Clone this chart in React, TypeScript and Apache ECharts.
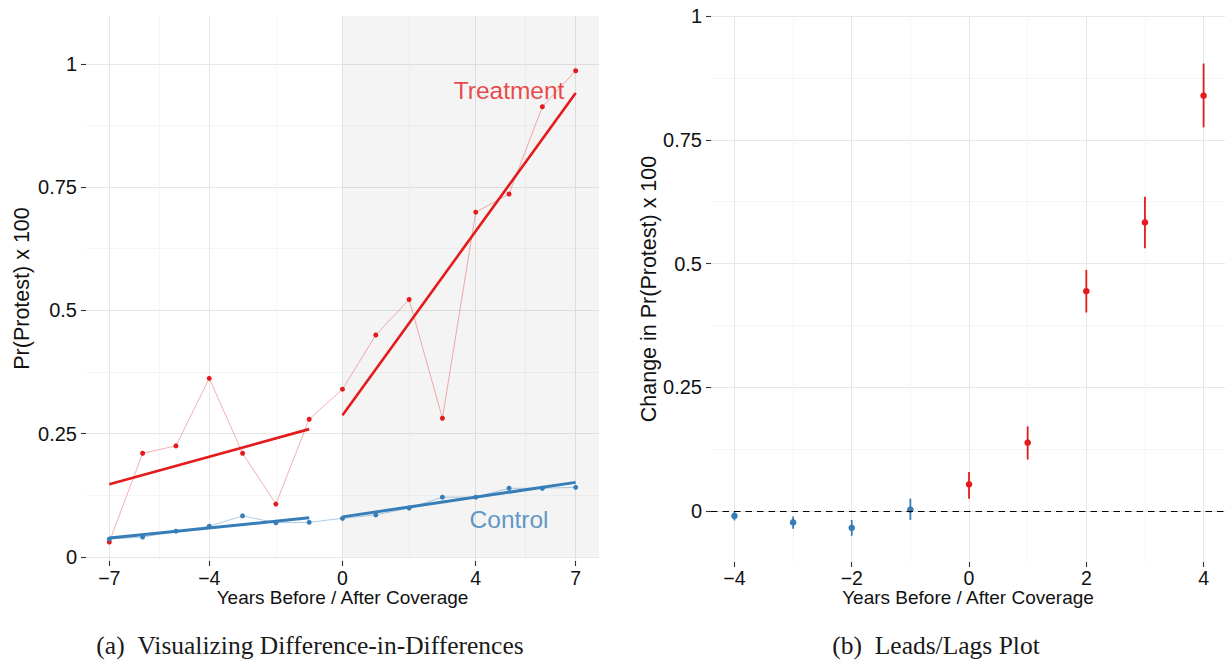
import React, { useEffect, useRef } from "react";
import * as echarts from "echarts";

// ---------- Panel (a): Difference-in-Differences ----------
const years = [-7, -6, -5, -4, -3, -2, -1, 0, 1, 2, 3, 4, 5, 6, 7];
const treatmentRate = [0.030, 0.210, 0.225, 0.362, 0.210, 0.107, 0.279, 0.340, 0.450, 0.522, 0.281, 0.699, 0.736, 0.913, 0.986];
const controlRate = [0.036, 0.040, 0.052, 0.062, 0.083, 0.069, 0.070, 0.078, 0.085, 0.099, 0.121, 0.121, 0.139, 0.139, 0.141];

const preFitX = [-7, -1];
const postFitX = [0, 7];
const treatPreFit = [0.147, 0.259];
const treatPostFit = [0.287, 0.941];
const ctrlPreFit = [0.038, 0.079];
const ctrlPostFit = [0.081, 0.151];

const didXTicks = [-7, -4, 0, 4, 7];
const didXMinor = [-5.5, -2, 2, 5.5];
const yTicks = [0, 0.25, 0.5, 0.75, 1];
const yMinor = [0.125, 0.375, 0.625, 0.875];

// ---------- Panel (b): Leads / Lags ----------
const eventTime = [-4, -3, -2, -1, 0, 1, 2, 3, 4];
const estimate = [-0.010, -0.023, -0.034, 0.003, 0.054, 0.138, 0.444, 0.583, 0.839];
const lower = [-0.019, -0.036, -0.050, -0.018, 0.025, 0.104, 0.401, 0.531, 0.775];
const upper = [-0.001, -0.011, -0.018, 0.025, 0.079, 0.171, 0.487, 0.635, 0.904];
const llXTicks = [-4, -2, 0, 2, 4];
const llXMinor = [-3, -1, 1, 3];

const RED = "#E41A1C";
const BLUE = "#377EB8";
const FONT = "'Liberation Sans', Arial, Helvetica, sans-serif";
const SERIF = "'Liberation Serif', 'Times New Roman', serif";

const fmt = (v: number) => String(v).replace("-", "\u2212");

function majorAxis(gridIndex: number, min: number, max: number, ticks: number[], name: string, nameGap: number, vertical: boolean, labelMargin: number) {
  return {
    type: "value",
    gridIndex,
    min,
    max,
    name,
    nameLocation: "middle",
    nameGap,
    nameMoveOverlap: false,
    nameRotate: vertical ? 90 : 0,
    nameTextStyle: vertical
      ? { fontFamily: FONT, fontSize: 21.5, color: "#111" }
      : { fontFamily: FONT, fontSize: 19, lineHeight: 15, color: "#111" },
    axisLine: { show: false, onZero: false },
    axisTick: { show: true, length: 5, customValues: ticks, lineStyle: { color: "#333", width: 1.1 } },
    axisLabel: vertical
      ? { show: true, customValues: ticks, margin: labelMargin, fontFamily: FONT, fontSize: 20, color: "#111", formatter: fmt }
      : { show: true, customValues: ticks, margin: labelMargin, lineHeight: 16, fontFamily: FONT, fontSize: 19.5, color: "#111", formatter: fmt },
    splitLine: { show: true, lineStyle: { color: "#e6e6e6", width: 1 } },
  };
}

function minorAxis(gridIndex: number, min: number, max: number, ticks: number[]) {
  return {
    type: "value",
    gridIndex,
    min,
    max,
    axisLine: { show: false, onZero: false },
    axisTick: { show: false, customValues: ticks },
    axisLabel: { show: false, customValues: ticks },
    splitLine: { show: true, lineStyle: { color: "#f2f2f2", width: 0.8 } },
  };
}

const zip = (xs: number[], ys: number[]) => xs.map((x, i) => [x, ys[i]]);

export default function App() {
  const ref = useRef<HTMLDivElement>(null);
  useEffect(() => {
    document.body.style.margin = "0";
    const chart = echarts.init(ref.current!, null, { renderer: "svg" });
    const option: any = {
      animation: false,
      backgroundColor: "#ffffff",
      grid: [
        { left: 86, top: 16, width: 513, height: 545, outerBoundsMode: "none", containLabel: false },
        { left: 711, top: 16, width: 514, height: 546, outerBoundsMode: "none", containLabel: false },
      ],
      xAxis: [
        majorAxis(0, -7.7, 7.7, didXTicks, "Years Before / After Coverage", 29, false, 9),
        majorAxis(1, -4.4, 4.365, llXTicks, "Years Before / After Coverage", 28, false, 8),
        minorAxis(0, -7.7, 7.7, didXMinor),
        minorAxis(1, -4.4, 4.365, llXMinor),
      ],
      yAxis: [
        majorAxis(0, -0.0085, 1.097, yTicks, "Pr(Protest) x 100", 53, true, 9),
        majorAxis(1, -0.103, 1.0, yTicks, "Change in Pr(Protest) x 100", 51, true, 9),
        minorAxis(0, -0.0085, 1.097, yMinor),
        minorAxis(1, -0.103, 1.0, yMinor),
      ],
      series: [
        {
          type: "line",
          xAxisIndex: 0,
          yAxisIndex: 0,
          data: [],
          z: 1,
          silent: true,
          markArea: {
            silent: true,
            itemStyle: { color: "rgba(0,0,0,0.045)" },
            data: [[{ xAxis: 0, yAxis: 0 }, { xAxis: 7.7, yAxis: 1.097 }]],
          },
        },
        {
          name: "Treatment raw",
          type: "line",
          xAxisIndex: 0,
          yAxisIndex: 0,
          data: zip(years, treatmentRate),
          symbol: "circle",
          symbolSize: 5,
          showSymbol: true,
          lineStyle: { color: "rgba(228,26,28,0.35)", width: 1 },
          itemStyle: { color: RED, borderWidth: 0 },
          z: 3,
          silent: true,
        },
        {
          name: "Control raw",
          type: "line",
          xAxisIndex: 0,
          yAxisIndex: 0,
          data: zip(years, controlRate),
          symbol: "circle",
          symbolSize: 5,
          lineStyle: { color: "rgba(55,126,184,0.4)", width: 1 },
          itemStyle: { color: BLUE, borderWidth: 0 },
          z: 3,
          silent: true,
        },
        ...[
          [preFitX, treatPreFit, RED, 2.6],
          [postFitX, treatPostFit, RED, 2.6],
          [preFitX, ctrlPreFit, BLUE, 3],
          [postFitX, ctrlPostFit, BLUE, 3],
        ].map(([xs, ys, c, w]: any) => ({
          type: "line",
          xAxisIndex: 0,
          yAxisIndex: 0,
          data: zip(xs, ys),
          showSymbol: false,
          symbol: "none",
          lineStyle: { color: c, width: w },
          z: 4,
          silent: true,
        })),
        {
          type: "scatter",
          xAxisIndex: 0,
          yAxisIndex: 0,
          symbolSize: 0.001,
          silent: true,
          z: 5,
          data: [
            { value: [5.0, 0.945], label: { formatter: "Treatment", color: RED } },
            { value: [5.0, 0.075], label: { formatter: "Control", color: BLUE } },
          ],
          label: { show: true, position: "inside", fontFamily: FONT, fontSize: 24.5 },
        },
        {
          type: "custom",
          xAxisIndex: 1,
          yAxisIndex: 1,
          silent: true,
          z: 4,
          data: eventTime.map((x, i) => [x, estimate[i], lower[i], upper[i]]),
          encode: { x: 0, y: [1, 2, 3] },
          renderItem: (params: any, api: any) => {
            const x = api.value(0);
            const c = x < 0 ? BLUE : RED;
            const p = api.coord([x, api.value(1)]);
            const a = api.coord([x, api.value(2)]);
            const b = api.coord([x, api.value(3)]);
            return {
              type: "group",
              children: [
                { type: "line", shape: { x1: a[0], y1: a[1], x2: b[0], y2: b[1] }, style: { stroke: c, lineWidth: 1.8 } },
                { type: "circle", shape: { cx: p[0], cy: p[1], r: 3.3 }, style: { fill: c } },
              ],
            };
          },
          markLine: {
            silent: true,
            symbol: ["none", "none"],
            label: { show: false },
            lineStyle: { color: "#000", width: 1.2, type: [6.5, 5] },
            data: [{ yAxis: 0 }],
          },
        },
      ],
      graphic: [
        {
          type: "text",
          x: 310,
          y: 645,
          style: {
            text: "(a)\u2002Visualizing Difference-in-Differences",
            fontFamily: SERIF,
            fontSize: 25.5,
            fill: "#1a1a1a",
            align: "center",
            verticalAlign: "middle",
          },
        },
        {
          type: "text",
          x: 936,
          y: 645,
          style: {
            text: "(b)\u2002Leads/Lags Plot",
            fontFamily: SERIF,
            fontSize: 25.5,
            fill: "#1a1a1a",
            align: "center",
            verticalAlign: "middle",
          },
        },
      ],
    };
    chart.setOption(option);
    return () => chart.dispose();
  }, []);
  return <div ref={ref} style={{ position: "fixed", left: 0, top: 0, width: 1225, height: 662 }} />;
}
